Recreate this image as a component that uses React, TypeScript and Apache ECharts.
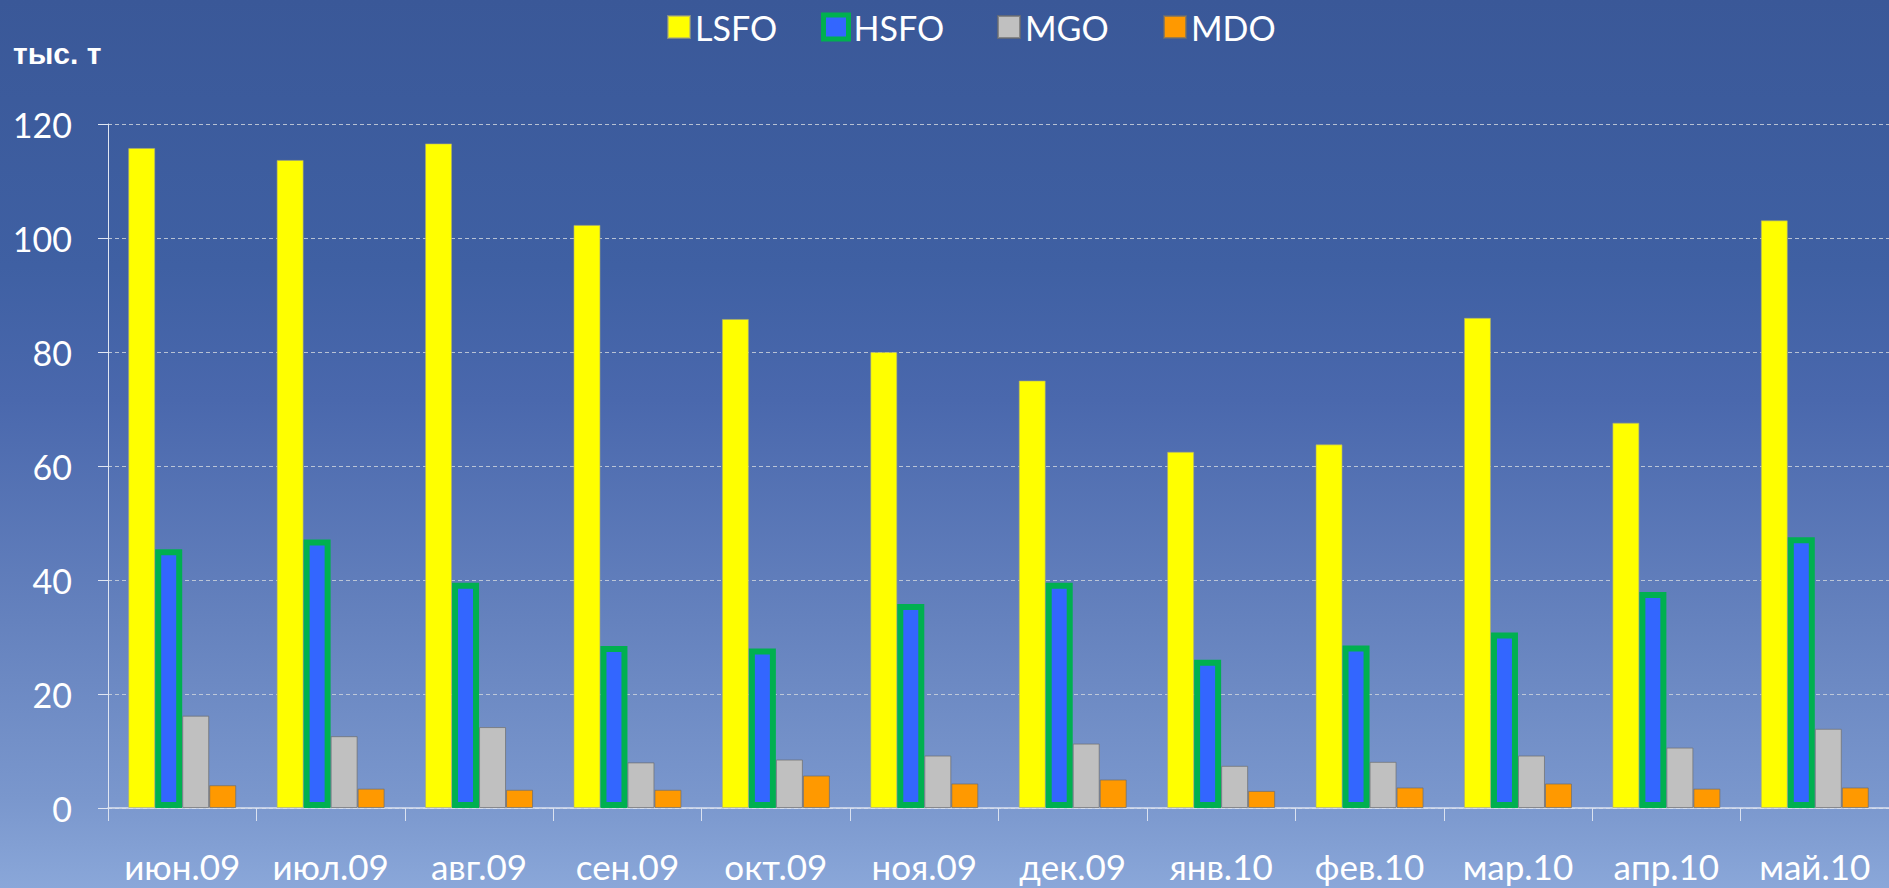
import React, { useEffect, useRef } from 'react';
import * as echarts from 'echarts';

const categories = ['июн.09', 'июл.09', 'авг.09', 'сен.09', 'окт.09', 'ноя.09', 'дек.09', 'янв.10', 'фев.10', 'мар.10', 'апр.10', 'май.10'];
const seriesNames = ['LSFO', 'HSFO', 'MGO', 'MDO'];
const lsfo = [115.8, 113.7, 116.6, 102.3, 85.8, 80.0, 75.0, 62.5, 63.8, 86.0, 67.6, 103.1];
const hsfo = [45.4, 47.1, 39.5, 28.4, 28.0, 35.8, 39.5, 26.0, 28.5, 30.8, 37.9, 47.5];
const mgo = [16.2, 12.6, 14.2, 8.0, 8.5, 9.2, 11.3, 7.4, 8.1, 9.2, 10.6, 13.9];
const mdo = [4.0, 3.4, 3.2, 3.2, 5.7, 4.3, 5.0, 3.0, 3.6, 4.3, 3.4, 3.6];
const yTicks = [0, 20, 40, 60, 80, 100, 120];
const unitLabel = 'тыс. т';

export default function App() {
  const ref = useRef<HTMLDivElement>(null);
  useEffect(() => {
    const chart = echarts.init(ref.current!, null, { renderer: 'svg' });
    const font = 'Lato, "Open Sans", sans-serif';
    const legendText = { color: '#ffffff', fontFamily: font, fontSize: 34 };
    const legendLefts = [662, 818, 992, 1158];
    chart.setOption({
      animation: false,
      backgroundColor: {
        type: 'linear', x: 0, y: 0, x2: 0, y2: 1,
        colorStops: [
          { offset: 0, color: '#3a5898' },
          { offset: 0.3, color: '#3f60a3' },
          { offset: 0.45, color: '#4a68ad' },
          { offset: 0.7, color: '#6582be' },
          { offset: 0.9, color: '#7a97cd' },
          { offset: 1, color: '#8aa7d9' },
        ],
      },
      graphic: [
        {
          type: 'text', x: 13, y: 38,
          style: { text: unitLabel, fill: '#ffffff', font: 'bold 30px "Liberation Sans", Arial, sans-serif' },
        },
      ],
      legend: seriesNames.map((name, i) => {
        const isH = name === 'HSFO';
        return {
          left: legendLefts[i] - (isH ? 2 : 0), top: 5,
          icon: 'rect',
          itemWidth: isH ? 25 : 22, itemHeight: isH ? 24 : 22,
          textStyle: legendText,
          data: [
            isH
              ? { name, itemStyle: { color: '#3366ff', borderColor: '#00b050', borderWidth: 5 } }
              : { name },
          ],
        };
      }),
      grid: { left: 108, top: 124, width: 1794, height: 684, containLabel: false },
      xAxis: {
        type: 'category',
        data: categories,
        axisLine: { lineStyle: { color: '#dbe2f0', width: 1.5 } },
        axisTick: { show: true, length: 13, lineStyle: { color: '#dbe2f0' } },
        axisLabel: { color: '#ffffff', fontFamily: font, fontSize: 35, margin: 40, interval: 0 },
      },
      yAxis: {
        type: 'value', min: 0, max: 120, interval: 20,
        axisLine: { show: true, lineStyle: { color: '#e0e6f2', width: 1 } },
        axisTick: { show: true, length: 10, lineStyle: { color: '#e0e6f2' } },
        axisLabel: {
          color: '#ffffff', fontFamily: font, fontSize: 34, margin: 36,
          formatter: (v: number) => (yTicks.includes(v) ? String(v) : ''),
        },
        splitLine: { show: true, lineStyle: { color: 'rgba(205,210,220,0.85)', type: [4, 3], width: 1 } },
      },
      series: [
        { name: seriesNames[0], type: 'bar', data: lsfo, barWidth: 27, barGap: '0%',
          itemStyle: { color: '#ffff00', borderColor: 'rgba(170,170,120,0.6)', borderWidth: 1 } },
        { name: seriesNames[1], type: 'bar', data: hsfo, barWidth: 27, barGap: '0%',
          itemStyle: { color: '#3366ff', borderColor: '#00b050', borderWidth: 6 } },
        { name: seriesNames[2], type: 'bar', data: mgo, barWidth: 27, barGap: '0%',
          itemStyle: { color: '#c0c0c0', borderColor: 'rgba(110,110,110,0.7)', borderWidth: 1 } },
        { name: seriesNames[3], type: 'bar', data: mdo, barWidth: 27, barGap: '0%',
          itemStyle: { color: '#ff9900', borderColor: 'rgba(110,110,110,0.7)', borderWidth: 1 } },
      ],
    });
    return () => chart.dispose();
  }, []);
  return <div ref={ref} style={{ position: 'absolute', left: 0, top: 0, width: 1889, height: 888 }} />;
}
